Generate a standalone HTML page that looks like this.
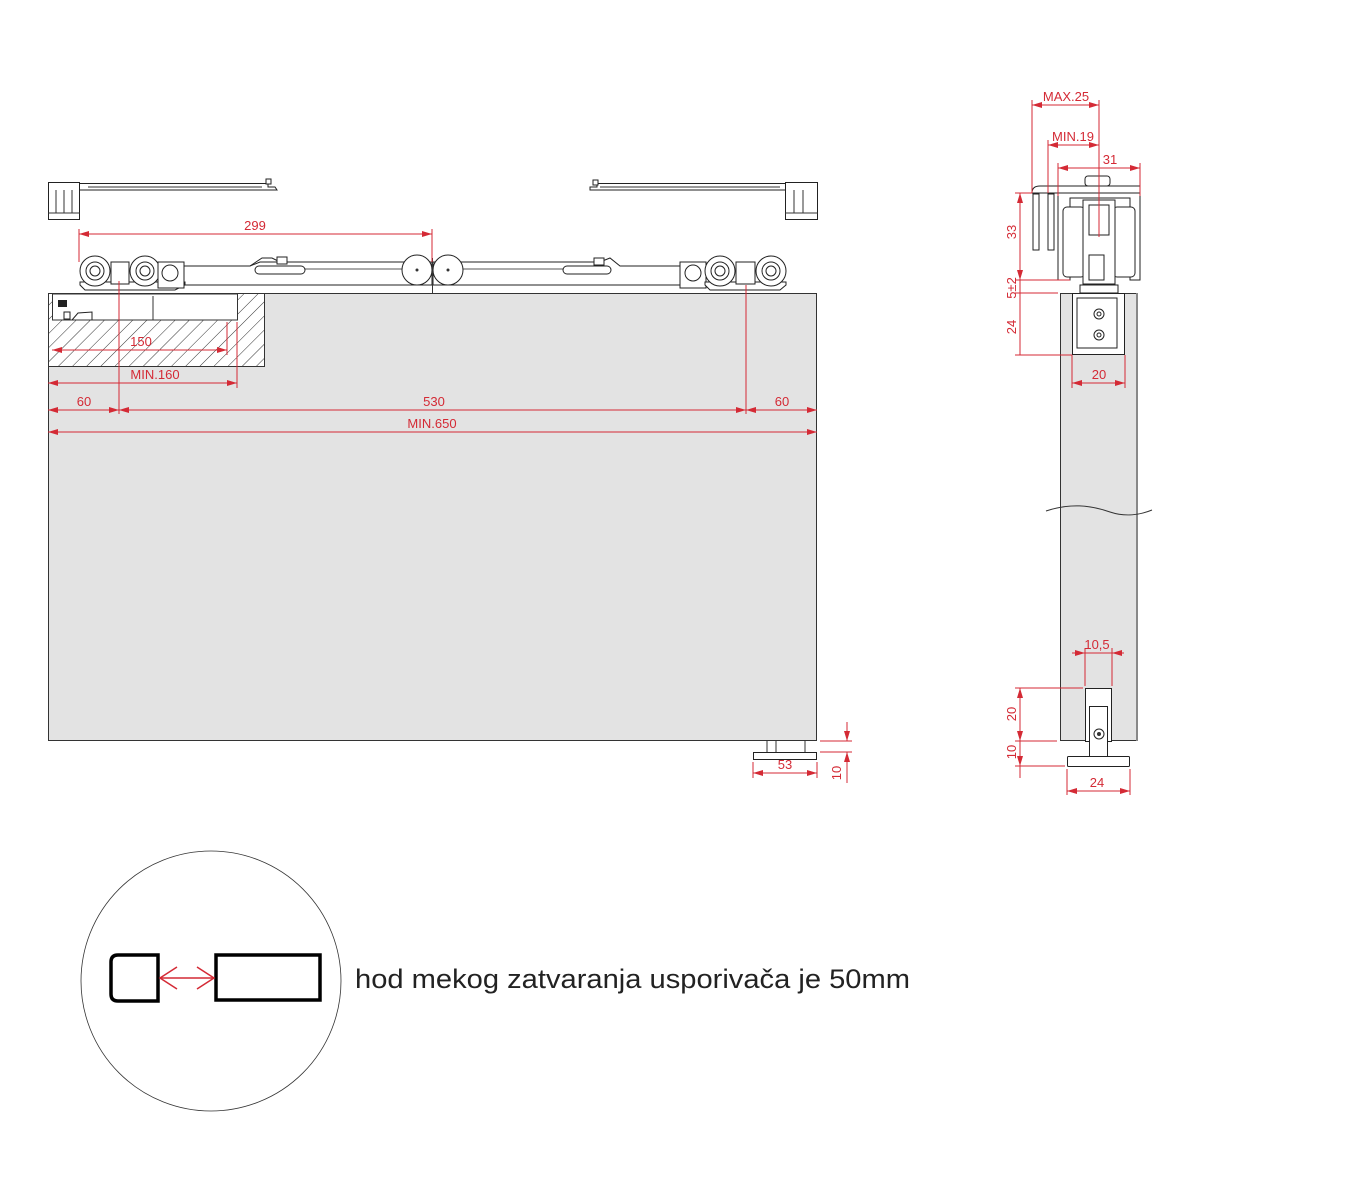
<!DOCTYPE html>
<html><head><meta charset="utf-8"><style>
html,body{margin:0;padding:0;background:#fff;}
svg{display:block;}
.r{stroke:#d42a35;stroke-width:1;fill:none}
.t{fill:#d42a35;font-family:"Liberation Sans",sans-serif;font-size:13px;text-anchor:middle}
.k{stroke:#222;fill:#fff;stroke-width:1}
.kn{stroke:#222;fill:none;stroke-width:1}
</style></head><body>
<svg width="1358" height="1201" viewBox="0 0 1358 1201" xmlns="http://www.w3.org/2000/svg">
<defs>
<marker id="a" viewBox="0 0 10 6" refX="10" refY="3" markerWidth="10" markerHeight="6" orient="auto-start-reverse" markerUnits="userSpaceOnUse"><path d="M0,0 L10,3 L0,6 z" fill="#d42a35"/></marker>
<pattern id="h" width="10" height="10" patternUnits="userSpaceOnUse" patternTransform="rotate(45)"><line x1="0" y1="0" x2="0" y2="10" stroke="#333" stroke-width="1"/></pattern>
</defs>

<!-- main door -->
<rect x="48.5" y="293.5" width="768" height="447" fill="#e3e3e3" stroke="#333"/>
<!-- pocket hatch -->
<rect x="48.5" y="293.5" width="216" height="73" fill="#fff" stroke="#333"/>
<rect x="48.5" y="293.5" width="216" height="73" fill="url(#h)" stroke="none"/>
<rect x="52.5" y="294" width="185" height="26" fill="#fff" stroke="#333"/>
<rect x="58" y="300" width="9" height="7" fill="#222"/>
<rect x="64" y="312" width="6" height="7" class="k"/>
<path d="M72,320 L78,313 L92,312 L92,320" class="kn"/>
<line x1="153" y1="296" x2="153" y2="320" stroke="#333"/>

<!-- top-left closer -->
<rect x="48.5" y="182.5" width="31" height="37" class="k"/>
<line x1="56" y1="190" x2="56" y2="213" stroke="#333"/><line x1="64" y1="190" x2="64" y2="213" stroke="#333"/><line x1="72" y1="190" x2="72" y2="213" stroke="#333"/>
<line x1="48" y1="213" x2="80" y2="213" stroke="#333"/>
<path d="M80,183.5 L268,183.5 L268,187 L275,187 L277,190 L268,190 L80,190" class="kn"/>
<line x1="88" y1="187" x2="262" y2="187" stroke="#333"/>
<rect x="266" y="179" width="5" height="5" class="k"/>
<!-- top-right closer -->
<rect x="785.5" y="182.5" width="32" height="37" class="k"/>
<line x1="794" y1="190" x2="794" y2="213" stroke="#333"/><line x1="803" y1="190" x2="803" y2="213" stroke="#333"/>
<line x1="785" y1="213" x2="818" y2="213" stroke="#333"/>
<path d="M785,183.5 L597,183.5 L597,187 L590,187 L590,190 L785,190" class="kn"/>
<line x1="600" y1="187" x2="780" y2="187" stroke="#333"/>
<rect x="593" y="180" width="5" height="5" class="k"/>

<!-- bars -->
<path d="M184,266 L250,266 L260,262 L432,262 L432,285 L184,285 Z" class="k"/>
<path d="M433,262 L600,262 L610,258 L620,266 L690,266 L690,285 L433,285 Z" class="k"/>
<line x1="295" y1="269" x2="405" y2="269" stroke="#555"/>
<line x1="460" y1="269" x2="570" y2="269" stroke="#555"/>
<rect x="255" y="266" width="50" height="8" rx="4" class="k"/>
<path d="M250,266 L262,258 L272,258 L280,262" class="kn"/><rect x="277" y="257" width="10" height="7" class="k"/>
<rect x="563" y="266" width="48" height="8" rx="4" class="k"/>
<rect x="594" y="258" width="10" height="7" class="k"/>
<circle cx="417" cy="270" r="15" class="k"/><circle cx="417" cy="270" r="1.5" fill="#333"/>
<circle cx="448" cy="270" r="15" class="k"/><circle cx="448" cy="270" r="1.5" fill="#333"/>
<line x1="432.5" y1="258" x2="432.5" y2="293" stroke="#333"/>

<!-- left carriage -->
<path d="M80,285 L85,290 L175,290 L185,285 L185,282 L80,282 Z" class="k"/>
<circle cx="95" cy="271" r="15" class="k"/><circle cx="95" cy="271" r="9" class="k"/><circle cx="95" cy="271" r="5" class="k"/>
<circle cx="145" cy="271" r="15" class="k"/><circle cx="145" cy="271" r="9" class="k"/><circle cx="145" cy="271" r="5" class="k"/>
<rect x="111" y="262" width="18" height="22" class="k"/>
<rect x="158" y="262" width="26" height="26" class="k"/><circle cx="170" cy="273" r="8" class="k"/>
<!-- right carriage -->
<rect x="680" y="262" width="26" height="26" class="k"/><circle cx="693" cy="273" r="8" class="k"/>
<path d="M705,285 L710,290 L780,290 L786,285 L786,282 L705,282 Z" class="k"/>
<circle cx="720" cy="271" r="15" class="k"/><circle cx="720" cy="271" r="9" class="k"/><circle cx="720" cy="271" r="5" class="k"/>
<circle cx="771" cy="271" r="15" class="k"/><circle cx="771" cy="271" r="9" class="k"/><circle cx="771" cy="271" r="5" class="k"/>
<rect x="736" y="262" width="19" height="22" class="k"/>

<!-- left view dimensions -->
<line x1="79" y1="234" x2="432" y2="234" class="r" marker-start="url(#a)" marker-end="url(#a)"/>
<line x1="79" y1="229" x2="79" y2="262" class="r"/><line x1="432" y1="229" x2="432" y2="262" class="r"/>
<text x="255" y="230" class="t">299</text>
<line x1="52" y1="350" x2="227" y2="350" class="r" marker-start="url(#a)" marker-end="url(#a)"/>
<line x1="227" y1="322" x2="227" y2="355" class="r"/>
<text x="141" y="346" class="t">150</text>
<line x1="48" y1="383" x2="237" y2="383" class="r" marker-start="url(#a)" marker-end="url(#a)"/>
<line x1="237" y1="322" x2="237" y2="388" class="r"/>
<text x="155" y="379" class="t">MIN.160</text>
<line x1="119" y1="281" x2="119" y2="414" class="r"/>
<line x1="746" y1="285" x2="746" y2="414" class="r"/>
<line x1="48" y1="410" x2="119" y2="410" class="r" marker-start="url(#a)" marker-end="url(#a)"/>
<line x1="119" y1="410" x2="746" y2="410" class="r" marker-start="url(#a)" marker-end="url(#a)"/>
<line x1="746" y1="410" x2="817" y2="410" class="r" marker-start="url(#a)" marker-end="url(#a)"/>
<text x="84" y="406" class="t">60</text><text x="434" y="406" class="t">530</text><text x="782" y="406" class="t">60</text>
<line x1="48" y1="432" x2="817" y2="432" class="r" marker-start="url(#a)" marker-end="url(#a)"/>
<text x="432" y="428" class="t">MIN.650</text>

<!-- bottom floor guide left -->
<rect x="753.5" y="752.5" width="63" height="7" class="k"/>
<line x1="767" y1="741" x2="767" y2="752" stroke="#333"/><line x1="776" y1="741" x2="776" y2="752" stroke="#333"/><line x1="805" y1="741" x2="805" y2="752" stroke="#333"/>
<line x1="753" y1="773" x2="817" y2="773" class="r" marker-start="url(#a)" marker-end="url(#a)"/>
<line x1="753" y1="762" x2="753" y2="778" class="r"/><line x1="817" y1="762" x2="817" y2="778" class="r"/>
<text x="785" y="769" class="t">53</text>
<line x1="847" y1="722" x2="847" y2="741" class="r" marker-end="url(#a)"/>
<line x1="847" y1="752" x2="847" y2="783" class="r" marker-start="url(#a)"/>
<line x1="820" y1="741" x2="852" y2="741" class="r"/><line x1="820" y1="752" x2="852" y2="752" class="r"/>
<text x="0" y="0" class="t" transform="translate(841,773) rotate(-90)">10</text>

<!-- right side view -->
<rect x="1060.5" y="293.5" width="76" height="447" fill="#e3e3e3" stroke="#333"/>
<line x1="1137" y1="293" x2="1137" y2="741" stroke="#888" stroke-width="2"/>
<path d="M1046,511 C1070,503 1090,505 1110,512 C1125,517 1140,515 1152,510" stroke="#333" fill="none"/>
<path d="M1032,193 Q1032,186 1040,186 L1140,186 L1140,193 L1032,193" class="k"/>
<rect x="1085" y="176" width="25" height="10" rx="3" class="k"/>
<rect x="1033" y="194" width="6" height="56" class="k"/>
<rect x="1048" y="194" width="6" height="56" class="k"/>
<path d="M1058,196 L1058,280 L1070,280 L1070,198 L1130,198 L1130,280 L1140,280 L1140,196" class="kn"/>
<rect x="1063" y="207" width="22" height="70" rx="4" class="k"/>
<rect x="1113" y="207" width="22" height="70" rx="4" class="k"/>
<rect x="1083" y="200" width="32" height="84" class="k"/>
<rect x="1089" y="205" width="20" height="30" class="k"/>
<rect x="1089" y="255" width="15" height="25" class="k"/>
<rect x="1080" y="285" width="38" height="8" class="k"/>
<rect x="1072.5" y="293.5" width="52" height="61" class="k"/>
<rect x="1077" y="298" width="40" height="50" class="kn"/>
<circle cx="1099" cy="314" r="5" class="k"/><circle cx="1099" cy="314" r="2" class="k"/>
<circle cx="1099" cy="335" r="5" class="k"/><circle cx="1099" cy="335" r="2" class="k"/>
<line x1="1032" y1="105" x2="1099" y2="105" class="r" marker-start="url(#a)" marker-end="url(#a)"/>
<line x1="1032" y1="100" x2="1032" y2="193" class="r"/>
<line x1="1099" y1="100" x2="1099" y2="237" class="r"/>
<text x="1066" y="101" class="t">MAX.25</text>
<line x1="1048" y1="145" x2="1099" y2="145" class="r" marker-start="url(#a)" marker-end="url(#a)"/>
<line x1="1048" y1="140" x2="1048" y2="193" class="r"/>
<text x="1073" y="141" class="t">MIN.19</text>
<line x1="1058" y1="168" x2="1140" y2="168" class="r" marker-start="url(#a)" marker-end="url(#a)"/>
<line x1="1058" y1="163" x2="1058" y2="196" class="r"/><line x1="1140" y1="163" x2="1140" y2="196" class="r"/>
<text x="1110" y="164" class="t">31</text>
<line x1="1020" y1="193" x2="1020" y2="280" class="r" marker-start="url(#a)" marker-end="url(#a)"/>
<line x1="1015" y1="193" x2="1032" y2="193" class="r"/>
<line x1="1015" y1="280" x2="1070" y2="280" class="r"/>
<line x1="1015" y1="293" x2="1058" y2="293" class="r"/>
<line x1="1020" y1="280" x2="1020" y2="355" class="r"/>
<line x1="1015" y1="355" x2="1072" y2="355" class="r"/>
<text x="0" y="0" class="t" transform="translate(1016,232) rotate(-90)">33</text>
<text x="0" y="0" class="t" transform="translate(1016,288) rotate(-90)">5±2</text>
<text x="0" y="0" class="t" transform="translate(1016,327) rotate(-90)">24</text>
<line x1="1072" y1="383" x2="1125" y2="383" class="r" marker-start="url(#a)" marker-end="url(#a)"/>
<line x1="1072" y1="355" x2="1072" y2="388" class="r"/><line x1="1125" y1="355" x2="1125" y2="388" class="r"/>
<text x="1099" y="379" class="t">20</text>
<rect x="1085.5" y="688.5" width="26" height="53" class="k"/>
<rect x="1089.5" y="706.5" width="18" height="50" class="k"/>
<circle cx="1099" cy="734" r="5" class="k"/><circle cx="1099" cy="734" r="2" fill="#333"/>
<rect x="1067.5" y="756.5" width="62" height="10" rx="1" class="k"/>
<line x1="1072" y1="653" x2="1124" y2="653" class="r"/>
<line x1="1072" y1="653" x2="1085" y2="653" class="r" marker-end="url(#a)"/>
<line x1="1124" y1="653" x2="1112" y2="653" class="r" marker-end="url(#a)"/>
<line x1="1085" y1="648" x2="1085" y2="686" class="r"/><line x1="1112" y1="648" x2="1112" y2="686" class="r"/>
<text x="1097" y="649" class="t">10,5</text>
<line x1="1020" y1="688" x2="1020" y2="741" class="r" marker-start="url(#a)" marker-end="url(#a)"/>
<line x1="1020" y1="741" x2="1020" y2="766" class="r" marker-end="url(#a)"/>
<line x1="1020" y1="766" x2="1020" y2="778" class="r"/>
<line x1="1015" y1="688" x2="1083" y2="688" class="r"/>
<line x1="1015" y1="741" x2="1057" y2="741" class="r"/>
<line x1="1015" y1="766" x2="1065" y2="766" class="r"/>
<text x="0" y="0" class="t" transform="translate(1016,714) rotate(-90)">20</text>
<text x="0" y="0" class="t" transform="translate(1016,752) rotate(-90)">10</text>
<line x1="1067" y1="791" x2="1130" y2="791" class="r" marker-start="url(#a)" marker-end="url(#a)"/>
<line x1="1067" y1="769" x2="1067" y2="795" class="r"/><line x1="1130" y1="769" x2="1130" y2="795" class="r"/>
<text x="1097" y="787" class="t">24</text>

<!-- detail circle -->
<circle cx="211" cy="981" r="130" fill="none" stroke="#333" stroke-width="0.8"/>
<path d="M158,955 L118,955 Q111,955 111,962 L111,994 Q111,1001 118,1001 L158,1001 Z" fill="#fff" stroke="#000" stroke-width="3.5"/>
<rect x="216" y="955" width="104" height="45" fill="#fff" stroke="#000" stroke-width="3.5"/>
<line x1="160" y1="978" x2="214" y2="978" stroke="#d42a35" stroke-width="1.5"/>
<path d="M177,967 L160,978 L177,989 M197,967 L214,978 L197,989" stroke="#d42a35" stroke-width="1.5" fill="none"/>
<text x="355" y="988" font-family="'Liberation Sans',sans-serif" font-size="27" fill="#222" textLength="555" lengthAdjust="spacingAndGlyphs">hod mekog zatvaranja usporivača je 50mm</text>
</svg>
</body></html>
